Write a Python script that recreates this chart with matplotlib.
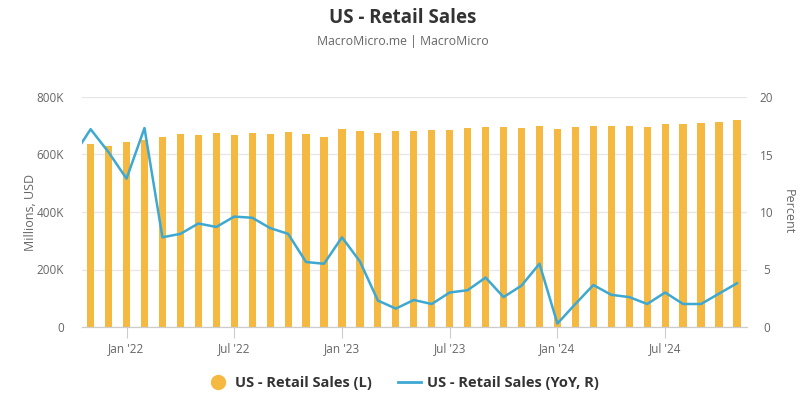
import numpy as np
import matplotlib.pyplot as plt

# monthly data, Oct 2021 .. Nov 2024
months = ['2021-10', '2021-11', '2021-12',
          '2022-01', '2022-02', '2022-03', '2022-04', '2022-05', '2022-06',
          '2022-07', '2022-08', '2022-09', '2022-10', '2022-11', '2022-12',
          '2023-01', '2023-02', '2023-03', '2023-04', '2023-05', '2023-06',
          '2023-07', '2023-08', '2023-09', '2023-10', '2023-11', '2023-12',
          '2024-01', '2024-02', '2024-03', '2024-04', '2024-05', '2024-06',
          '2024-07', '2024-08', '2024-09', '2024-10', '2024-11']
sales = [628, 636, 630,
         642, 650, 660, 671, 667, 674,
         668, 674, 670, 679, 671, 662,
         690, 683, 676, 680, 683, 686,
         686, 693, 697, 697, 693, 700,
         690, 697, 700, 700, 700, 697,
         707, 707, 711, 714, 720]   # thousands of millions USD
yoy = [14.8, 17.2, 15.2,
       12.9, 17.3, 7.8, 8.1, 9.0, 8.7,
       9.6, 9.5, 8.6, 8.1, 5.65, 5.5,
       7.8, 5.7, 2.3, 1.6, 2.35, 2.0,
       3.0, 3.2, 4.3, 2.6, 3.6, 5.5,
       0.3, 2.0, 3.65, 2.8, 2.6, 2.0,
       3.0, 2.0, 2.0, 2.9, 3.8]

tick_labels = ["Jan '22", "Jul '22", "Jan '23", "Jul '23", "Jan '24", "Jul '24"]
tick_months = ['2022-01', '2022-07', '2023-01', '2023-07', '2024-01', '2024-07']

bar_c = '#F5B942'
line_c = '#3DA8D1'
txt_c = '#666666'
plt.rcParams['font.family'] = ['Open Sans', 'DejaVu Sans']

x = np.arange(len(months))

fig = plt.figure(figsize=(8.05, 4.03), dpi=100)
ax = fig.add_axes([82/805, 1-327/403, 665/805, 230/403])
ax2 = ax.twinx()

ax.bar(x, np.array(sales)*1000, width=0.4, color=bar_c, zorder=2)
ax2.plot(x, yoy, color=line_c, lw=1.8, zorder=3)

ax.set_xlim(0.52, 37.56)
ax.set_ylim(0, 800000)
ax2.set_ylim(0, 20)
ax.set_yticks([0, 200000, 400000, 600000, 800000])
ax.set_yticklabels(['0', '200K', '400K', '600K', '800K'])
ax2.set_yticks([0, 5, 10, 15, 20])
ax.set_xticks([months.index(m) for m in tick_months])
ax.set_xticklabels(tick_labels)

ax.grid(axis='y', color='#e6e6e6', lw=0.9, zorder=0)
ax.set_axisbelow(True)
for a in (ax, ax2):
    for s in ('top', 'left', 'right'):
        a.spines[s].set_visible(False)
    a.spines['bottom'].set_color('#cccccc')
ax.tick_params(axis='y', length=0, colors=txt_c, labelsize=8.5, pad=13)
ax2.tick_params(axis='y', length=0, colors=txt_c, labelsize=8.5, pad=14)
ax.tick_params(axis='x', length=8, color='#cccccc', colors=txt_c, labelsize=8.5, pad=3)
for lab in ax2.get_yticklabels():
    lab.set_horizontalalignment('center')

ax.set_ylabel('Millions, USD', color=txt_c, fontsize=9, labelpad=6)
ax2.set_ylabel('Percent', color=txt_c, fontsize=9, rotation=270, labelpad=6,
               va='center')
ax.yaxis.set_label_coords(-0.067, 0.5)
ax2.yaxis.set_label_coords(1.062, 0.5)

fig.text(0.5, 1-18/403, 'US - Retail Sales', ha='center', va='center',
         fontsize=13.5, fontweight='bold', color='#333333')
fig.text(0.5, 1-42/403, 'MacroMicro.me | MacroMicro', ha='center', va='center',
         fontsize=8.8, color=txt_c)

h1 = plt.Line2D([], [], marker='o', ls='none', color=bar_c, markersize=10)
h2 = plt.Line2D([], [], color=line_c, lw=2)
fig.legend([h1, h2], ['US - Retail Sales (L)', 'US - Retail Sales (YoY, R)'],
           loc='center', bbox_to_anchor=(0.5, 1-383/403), ncol=2, frameon=False,
           prop={'weight': 'bold', 'size': 10.5}, handlelength=1.6,
           handletextpad=0.4, columnspacing=1.8, labelcolor='#333333')

fig.savefig('out.png', dpi=100)
